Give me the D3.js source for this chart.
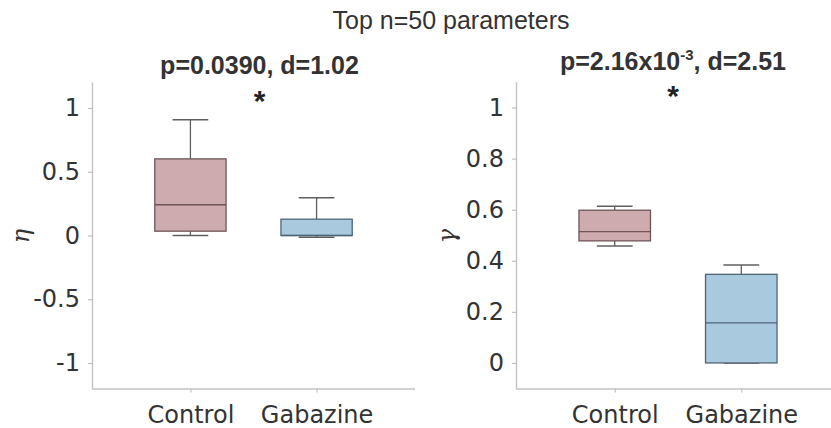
<!DOCTYPE html>
<html>
<head>
<meta charset="utf-8">
<script src="https://cdn.jsdelivr.net/npm/d3@7"></script>
<style>
  html, body { margin: 0; padding: 0; background: #fff; }
  svg { display: block; }
</style>
</head>
<body>
<script>
// Groups shown on both panels
const categories = ["Control", "Gabazine"];

// eta: box-plot summary per group (whisker low, Q1, median, Q3, whisker high)
const etaLow    = [0.000, -0.013];
const etaQ1     = [0.034,  0.000];
const etaMedian = [0.241,  0.000];
const etaQ3     = [0.601,  0.128];
const etaHigh   = [0.908,  0.296];
const etaTicks  = [-1, -0.5, 0, 0.5, 1];

// gamma: box-plot summary per group
const gammaLow    = [0.458, 0.000];
const gammaQ1     = [0.478, 0.000];
const gammaMedian = [0.514, 0.157];
const gammaQ3     = [0.598, 0.347];
const gammaHigh   = [0.614, 0.384];
const gammaTicks  = [0, 0.2, 0.4, 0.6, 0.8, 1];

const groupFill   = ["#cdabae", "#a9c9df"];
const groupStroke = ["#6f5559", "#4f6577"];

const W = 831, H = 428;
const svg = d3.select("body").append("svg").attr("width", W).attr("height", H);

const textColor = "#333333";
const axisColor = "#c2c2c2";

svg.append("text")
  .attr("x", 451).attr("y", 29)
  .attr("text-anchor", "middle")
  .attr("font-family", "'Liberation Sans', Arial, sans-serif")
  .attr("font-size", 25).attr("fill", textColor)
  .text("Top n=50 parameters");

function panel(opts) {
  const g = svg.append("g");
  const x = d3.scalePoint().domain(categories).range([opts.left, opts.right]).padding(0.78);
  const y = d3.scaleLinear().domain(opts.domain).range([388.5, opts.top]);
  const step = x.step();
  const boxW = step * 0.565;
  const capW = boxW / 2;

  // axes
  const yAxis = d3.axisLeft(y).tickValues(opts.ticks).tickSize(4).tickPadding(8)
    .tickFormat(d => d3.format("")(d).replace("\u2212", "-"));
  const ya = g.append("g").attr("transform", `translate(${opts.left},0)`).call(yAxis);
  const xAxis = d3.axisBottom(x).tickSize(4).tickPadding(8);
  const xa = g.append("g").attr("transform", `translate(0,388.5)`).call(xAxis);
  [ya, xa].forEach(a => {
    a.select(".domain").attr("stroke", axisColor).attr("stroke-width", 1.4);
    a.selectAll(".tick line").attr("stroke", axisColor).attr("stroke-width", 1.2);
    a.selectAll(".tick text")
      .attr("font-family", "'DejaVu Sans', sans-serif")
      .attr("font-size", 24).attr("fill", textColor);
  });
  ya.select(".domain").attr("d", `M0.5,${opts.top}V388.5`);
  xa.select(".domain").attr("d", `M${opts.left},0.5H${opts.right}`);
  xa.selectAll(".tick text").attr("dy", "0.92em");

  // boxes
  categories.forEach((c, i) => {
    const cx = x(c);
    const stroke = groupStroke[i];
    const whisk = "#5f5f5f";
    g.append("line").attr("x1", cx).attr("x2", cx)
      .attr("y1", y(opts.q3[i])).attr("y2", y(opts.high[i]))
      .attr("stroke", whisk).attr("stroke-width", 1.3);
    g.append("line").attr("x1", cx).attr("x2", cx)
      .attr("y1", y(opts.q1[i])).attr("y2", y(opts.low[i]))
      .attr("stroke", whisk).attr("stroke-width", 1.3);
    [opts.high[i], opts.low[i]].forEach(v => {
      g.append("line").attr("x1", cx - capW / 2).attr("x2", cx + capW / 2)
        .attr("y1", y(v)).attr("y2", y(v))
        .attr("stroke", whisk).attr("stroke-width", 1.5);
    });
    g.append("rect")
      .attr("x", cx - boxW / 2).attr("width", boxW)
      .attr("y", y(opts.q3[i])).attr("height", Math.max(0, y(opts.q1[i]) - y(opts.q3[i])))
      .attr("fill", groupFill[i]).attr("stroke", stroke).attr("stroke-width", 1.3);
    g.append("line").attr("x1", cx - boxW / 2).attr("x2", cx + boxW / 2)
      .attr("y1", y(opts.median[i])).attr("y2", y(opts.median[i]))
      .attr("stroke", stroke).attr("stroke-width", 1.4);
  });

  // y label
  g.append("text")
    .attr("transform", `translate(${opts.labelX},236) rotate(-90)`)
    .attr("text-anchor", "middle").attr("dy", "0.3em")
    .attr("font-family", "'DejaVu Serif', 'Liberation Serif', serif")
    .attr("font-style", "italic")
    .attr("font-size", 24).attr("fill", textColor)
    .text(opts.label);

  // significance line
  const cxMid = (x(categories[0]) + x(categories[1])) / 2 + opts.statShift;
  const st = g.append("text")
    .attr("x", cxMid).attr("y", opts.statY)
    .attr("text-anchor", "middle")
    .attr("font-family", "'Liberation Sans', Arial, sans-serif")
    .attr("font-weight", "bold")
    .attr("font-size", 25).attr("fill", textColor);
  opts.stat(st);

  g.append("text")
    .attr("x", cxMid).attr("y", opts.starY)
    .attr("text-anchor", "middle")
    .attr("font-family", "'Liberation Sans', Arial, sans-serif")
    .attr("font-weight", "bold")
    .attr("font-size", 30).attr("fill", "#222")
    .text("*");
}

panel({
  left: 92, right: 415, top: 82.5, domain: [-1.2, 1.2], ticks: etaTicks,
  low: etaLow, q1: etaQ1, median: etaMedian, q3: etaQ3, high: etaHigh,
  label: "\u03b7", labelX: 22, statY: 74, starY: 111, statShift: 6,
  stat: t => t.text("p=0.0390, d=1.02")
});

panel({
  left: 516, right: 840, top: 82, domain: [-0.1, 1.1], ticks: gammaTicks,
  low: gammaLow, q1: gammaQ1, median: gammaMedian, q3: gammaQ3, high: gammaHigh,
  label: "\u03b3", labelX: 448, statY: 70, starY: 106, statShift: -5,
  stat: t => {
    t.append("tspan").text("p=2.16x10");
    t.append("tspan").attr("font-size", 15).attr("dy", -10).text("-3");
    t.append("tspan").attr("dy", 10).text(", d=2.51");
  }
});
</script>
</body>
</html>
